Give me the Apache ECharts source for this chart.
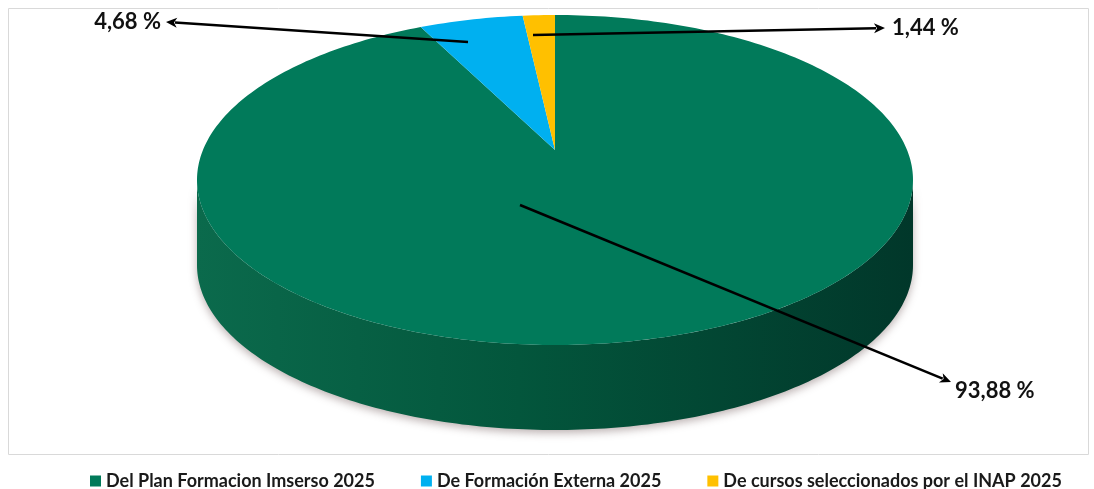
<!DOCTYPE html>
<html>
<head>
<meta charset="utf-8">
<script src="https://cdn.jsdelivr.net/npm/echarts@6/dist/echarts.min.js"></script>
<style>
  html, body { margin: 0; padding: 0; background: #fff; }
  #chart { width: 1094px; height: 489px; }
</style>
</head>
<body>
<div id="chart"></div>
<script>
var categories = ['Del Plan Formacion Imserso 2025', 'De Formación Externa 2025', 'De cursos seleccionados por el INAP 2025'];
var values = [93.88, 4.68, 1.44];
var colors = ['#017a5a', '#00b0f0', '#ffc000'];

// pseudo 3D pie layout (pixels)
var pie = { cx: 555, cy: 180, rx: 358, ry: 165, apexY: 150, depth: 85 };
// callout arrows: start inside the slice, arrow tip, label anchor
var callouts = [
  { from: [520, 205], to: [951, 382], text: [955, 391], align: 'left' },
  { from: [468, 42], to: [166, 22], text: [161, 22], align: 'right' },
  { from: [533, 35], to: [885, 28], text: [892, 28], align: 'left' }
];

var total = values.reduce(function (a, b) { return a + b; }, 0);

function ellipsePt(theta, dy) {
  return [pie.cx + pie.rx * Math.sin(theta), pie.cy - pie.ry * Math.cos(theta) + (dy || 0)];
}

function arcPts(a, b, dy) {
  var pts = [];
  var n = Math.max(2, Math.ceil(Math.abs(b - a) / (Math.PI / 180)));
  for (var k = 0; k <= n; k++) {
    pts.push(ellipsePt(a + (b - a) * k / n, dy));
  }
  return pts;
}

function fmt(v) {
  return v.toFixed(2).replace('.', ',') + ' %';
}

function makeRender(i) {
  return function (params, api) {
    var v = api.value(0);
    var before = 0;
    for (var j = 0; j < i; j++) before += values[j];
    var a = before / total * Math.PI * 2;
    var b = (before + v) / total * Math.PI * 2;
    var children = [];

    if (i === 0) {
      // visible side wall (front half)
      var top = arcPts(Math.PI / 2, Math.PI * 1.5, 0);
      var bottom = arcPts(Math.PI * 1.5, Math.PI / 2, pie.depth);
      children.push({
        type: 'polygon',
        shape: { points: top.concat(bottom) },
        style: {
          fill: {
            type: 'linear', x: 0, y: 0, x2: 1, y2: 0,
            colorStops: [
              { offset: 0, color: '#0b6a4c' },
              { offset: 0.45, color: '#03563c' },
              { offset: 1, color: '#01372a' }
            ]
          },
          shadowBlur: 8,
          shadowColor: 'rgba(60,30,30,0.35)',
          shadowOffsetY: 3
        }
      });
    }

    children.push({
      type: 'polygon',
      shape: { points: [[pie.cx, pie.apexY]].concat(arcPts(a, b, 0)) },
      style: { fill: colors[i] }
    });

    var c = callouts[i];
    var dx = c.to[0] - c.from[0], dy = c.to[1] - c.from[1];
    var len = Math.sqrt(dx * dx + dy * dy);
    var ux = dx / len, uy = dy / len;
    var hl = 11, hw = 5;
    var base = [c.to[0] - ux * hl, c.to[1] - uy * hl];
    children.push({
      type: 'line',
      shape: { x1: c.from[0], y1: c.from[1], x2: base[0] + ux * 2, y2: base[1] + uy * 2 },
      style: { stroke: '#000', lineWidth: 2.5 }
    });
    children.push({
      type: 'polygon',
      shape: { points: [c.to, [base[0] - uy * hw, base[1] + ux * hw], [base[0] + ux * 3, base[1] + uy * 3], [base[0] + uy * hw, base[1] - ux * hw]] },
      style: { fill: '#000' }
    });
    children.push({
      type: 'text',
      x: c.text[0],
      y: c.text[1],
      style: {
        text: fmt(v),
        fill: '#111',
        fontSize: 22,
        fontWeight: 'bold',
        fontFamily: 'Lato',
        align: c.align,
        verticalAlign: 'middle'
      }
    });

    return { type: 'group', children: children };
  };
}

var chart = echarts.init(document.getElementById('chart'));

chart.setOption({
  animation: false,
  color: colors,
  graphic: [{
    type: 'rect',
    shape: { x: 8.5, y: 8.5, width: 1080, height: 446 },
    style: { fill: 'none', stroke: '#d9d9d9', lineWidth: 1 },
    silent: true,
    z: -1
  }],
  legend: {
    data: categories,
    top: 466,
    left: 85,
    icon: 'rect',
    itemWidth: 11,
    itemHeight: 11,
    itemGap: 46,
    textStyle: {
      fontFamily: 'Lato',
      fontWeight: 'bold',
      fontSize: 18,
      color: '#1a1a1a',
      lineHeight: 20
    }
  },
  series: categories.map(function (name, i) {
    return {
      type: 'custom',
      name: name,
      coordinateSystem: 'none',
      itemStyle: { color: colors[i] },
      data: [values[i]],
      z: 2 + i,
      renderItem: makeRender(i)
    };
  })
});
</script>
</body>
</html>
